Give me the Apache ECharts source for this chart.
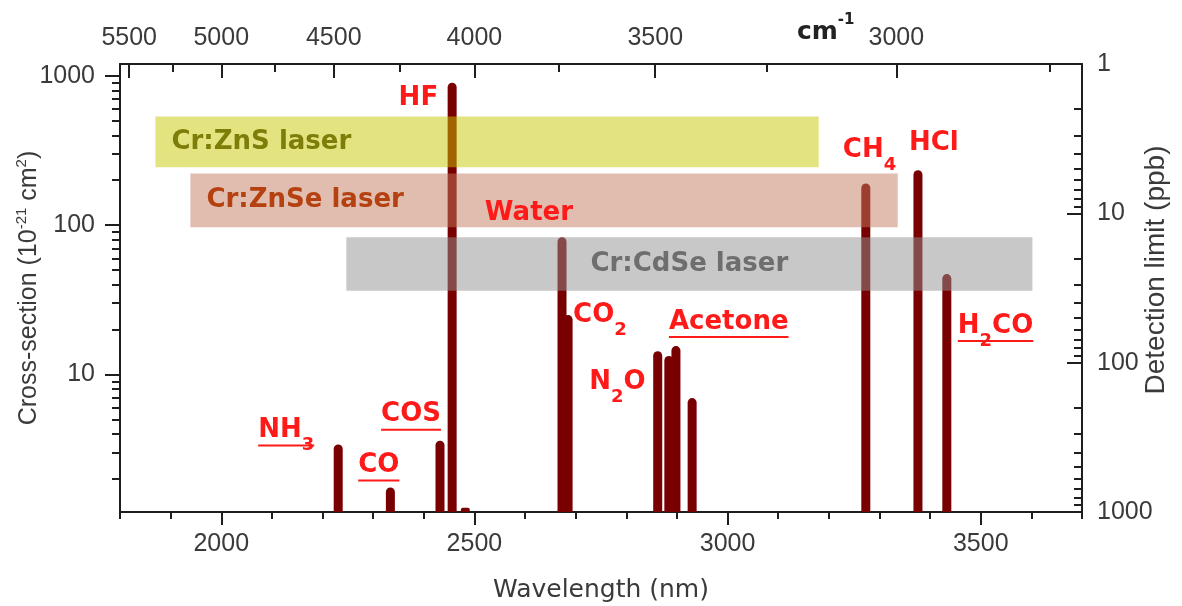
<!DOCTYPE html>
<html>
<head>
<meta charset="utf-8">
<script src="https://cdn.jsdelivr.net/npm/echarts@6/dist/echarts.min.js"></script>
<style>
  html, body { margin: 0; padding: 0; background: #fff; }
  #chart { width: 1182px; height: 606px; }
</style>
</head>
<body>
<div id="chart"></div>
<script>
// Absorption lines: centre wavelength (nm) and peak cross-section (1e-21 cm^2)
const wavelengths   = [2231, 2334, 2432, 2456, 2482, 2673, 2685, 2862, 2884, 2898, 2930, 3273, 3376, 3433];
const crossSections = [3.4, 1.75, 3.6, 900, 1.28, 83, 25, 14.3, 13.3, 15.5, 6.95, 190, 233, 47];

// Molecule names ("_n" marks a subscript digit) and the line each one names
const labelTexts = ['NH_3', 'CO', 'COS', 'HF', 'Water', 'CO_2', 'N_2O', 'Acetone', 'CH_4', 'HCl', 'H_2CO'];
const labelLines = [0, 1, 2, 3, 5, 6, 7, 9, 11, 12, 13];

// Laser tuning ranges: wavelength span (nm) and the cross-section band they cover
const laserNames = ['Cr:ZnS laser', 'Cr:ZnSe laser', 'Cr:CdSe laser'];
const laserStart = [1870, 1939, 2247];
const laserEnd   = [3180, 3336, 3602];
const laserLow   = [244, 97, 36.4];
const laserHigh  = [535, 222, 83];

// Tick values
const wavelengthTicks      = [2000, 2500, 3000, 3500];
const wavenumberTicks      = [5500, 5000, 4500, 4000, 3500, 3000];
const wavenumberMinorTicks = [5250, 4750, 4250, 3750, 3250, 2750];
const crossSectionTicks    = [10, 100, 1000];
const detectionTicks       = [1, 10, 100, 1000];
const logMinorTicks = [2, 3, 4, 5, 6, 7, 8, 9, 20, 30, 40, 50, 60, 70, 80, 90,
                       200, 300, 400, 500, 600, 700, 800, 900];

// ---- styling -------------------------------------------------------------
const AXIS_COLOR = '#1e1e1e';
const TEXT_COLOR = '#3a3a3a';
const BAR_COLOR = '#780000';
const LABEL_RED = '#ff1a1a';
const TICK_FONT = 'Liberation Sans';
const LABEL_FONT = 'DejaVu Sans';
const BAR_WIDTH = 9;

const laserFill = ['rgba(200,200,0,0.5)', 'rgba(194,124,96,0.5)', 'rgba(146,146,146,0.5)'];
const laserTextColor = ['#7d7d0a', '#b4410f', '#6e6e6e'];
const laserTextAlign = ['left', 'left', 'center'];

// where each molecule name sits relative to the top of its line (px)
const labelLayout = [
  { side: 'right', dx: -24, dy: -14, underline: true },  // NH3
  { side: 'right', dx: 9,   dy: -22, underline: true },  // CO
  { side: 'right', dx: 1,   dy: -26, underline: true },  // COS
  { side: 'right', dx: -14, dy: 16 },                    // HF
  { side: 'right', dx: 11,  dy: -24 },                   // Water
  { side: 'left',  dx: 5,   dy: 0 },                     // CO2
  { side: 'right', dx: -12, dy: 31 },                    // N2O
  { side: 'left',  dx: -7,  dy: -24, underline: true },  // Acetone
  { side: 'left',  dx: -23, dy: -33 },                   // CH4
  { side: 'left',  dx: -9,  dy: -27 },                   // HCl
  { side: 'left',  dx: 11,  dy: 52, underline: true }    // H2CO
];

const MAIN_FONT = 'bold 26px "' + LABEL_FONT + '"';
const SUB_FONT = 'bold 18px "' + LABEL_FONT + '"';
const measureCtx = document.createElement('canvas').getContext('2d');
function textWidth(str, font) {
  measureCtx.font = font;
  return measureCtx.measureText(str).width;
}

const chart = echarts.init(document.getElementById('chart'), null, { renderer: 'canvas' });

function renderLine(params, api) {
  const top = api.coord([api.value(0), api.value(1)]);
  const cs = params.coordSys;
  const bottom = cs.y + cs.height;
  const h = Math.max(bottom - top[1], 1);
  const r = Math.min(BAR_WIDTH / 2, h / 2);
  return {
    type: 'rect',
    shape: { x: top[0] - BAR_WIDTH / 2, y: top[1], width: BAR_WIDTH, height: h, r: [r, r, 0, 0] },
    style: { fill: BAR_COLOR }
  };
}

function renderLaser(params, api) {
  const i = params.dataIndex;
  const p0 = api.coord([api.value(0), api.value(3)]);
  const p1 = api.coord([api.value(1), api.value(2)]);
  const w = p1[0] - p0[0];
  const h = p1[1] - p0[1];
  const align = laserTextAlign[i];
  const tx = align === 'center' ? p0[0] + w / 2 : p0[0] + 16;
  return {
    type: 'group',
    children: [
      { type: 'rect', shape: { x: p0[0], y: p0[1], width: w, height: h }, style: { fill: laserFill[i] } },
      {
        type: 'text', z2: 10,
        style: {
          text: laserNames[i], x: tx, y: p0[1] + h / 2,
          font: 'bold 26px "' + LABEL_FONT + '"', fill: laserTextColor[i],
          align: align, verticalAlign: 'middle', textAlign: align, textVerticalAlign: 'middle'
        }
      }
    ]
  };
}

function renderLabel(params, api) {
  const i = params.dataIndex;
  const lay = labelLayout[i];
  const p = api.coord([api.value(0), api.value(1)]);
  const parts = labelTexts[i].split(/_(\d)/);
  const widths = parts.map((t, k) => textWidth(t, k % 2 ? SUB_FONT : MAIN_FONT));
  const total = widths.reduce((a, b) => a + b, 0);
  const x0 = lay.side === 'left' ? p[0] + lay.dx : p[0] + lay.dx - total;
  const cy = p[1] + lay.dy;
  const children = [];
  let x = x0;
  parts.forEach((t, k) => {
    if (t) {
      const sub = k % 2 === 1;
      children.push({
        type: 'text',
        style: {
          text: t, x: x, y: sub ? cy + 15 : cy,
          font: sub ? SUB_FONT : MAIN_FONT, fill: LABEL_RED,
          align: 'left', verticalAlign: 'middle', textAlign: 'left', textVerticalAlign: 'middle'
        }
      });
    }
    x += widths[k];
  });
  if (lay.underline) {
    children.push({
      type: 'line',
      shape: { x1: x0, y1: cy + 15, x2: x0 + total, y2: cy + 15 },
      style: { stroke: LABEL_RED, lineWidth: 2 }
    });
  }
  return { type: 'group', children: children };
}

const tickLabelStyle = { fontFamily: TICK_FONT, fontSize: 25, color: TEXT_COLOR };
const axisLineStyle = { color: AXIS_COLOR, width: 2 };
const tickLineStyle = { color: AXIS_COLOR, width: 2 };
const toWavelength = k => 1e7 / k;
const plain = v => String(v);

const option = {
  backgroundColor: '#ffffff',
  animation: false,
  grid: { left: 120, right: 100, top: 64, bottom: 94, outerBoundsMode: 'none', containLabel: false },
  graphic: [{
    type: 'text', left: 797, top: 13,
    style: {
      text: '{b|cm}{s|-1}',
      rich: {
        b: { fontSize: 25, fontWeight: 'bold', fontFamily: LABEL_FONT, fill: '#222', lineHeight: 32, verticalAlign: 'bottom' },
        s: { fontSize: 15, fontWeight: 'bold', fontFamily: LABEL_FONT, fill: '#222', lineHeight: 16, verticalAlign: 'top' }
      }
    }
  }],
  xAxis: [
    {
      type: 'value', position: 'bottom', min: 1800, max: 3700,
      axisLine: { show: true, onZero: false, lineStyle: axisLineStyle },
      axisTick: { show: true, customValues: wavelengthTicks, length: 13, lineStyle: tickLineStyle },
      axisLabel: Object.assign({ customValues: wavelengthTicks, margin: 20, formatter: plain }, tickLabelStyle),
      splitLine: { show: false },
      name: 'Wavelength (nm)', nameLocation: 'middle', nameGap: 66, nameMoveOverlap: false,
      nameTextStyle: { fontFamily: LABEL_FONT, fontSize: 25, color: TEXT_COLOR }
    },
    {
      type: 'value', position: 'bottom', min: 1800, max: 3700, interval: 100,
      axisLine: { show: false },
      axisTick: { show: true, length: 7, lineStyle: tickLineStyle },
      axisLabel: { show: false },
      splitLine: { show: false }
    },
    {
      type: 'value', position: 'top', min: 1800, max: 3700,
      axisLine: { show: true, onZero: false, lineStyle: axisLineStyle },
      axisTick: { show: true, inside: true, customValues: wavenumberTicks.map(toWavelength), length: 14, lineStyle: tickLineStyle },
      axisLabel: Object.assign({
        customValues: wavenumberTicks.map(toWavelength), margin: 13,
        formatter: v => String(Math.round(1e7 / v))
      }, tickLabelStyle),
      splitLine: { show: false }
    },
    {
      type: 'value', position: 'top', min: 1800, max: 3700,
      axisLine: { show: false },
      axisTick: { show: true, inside: true, customValues: wavenumberMinorTicks.map(toWavelength), length: 8, lineStyle: tickLineStyle },
      axisLabel: { show: false },
      splitLine: { show: false }
    }
  ],
  yAxis: [
    {
      type: 'log', logBase: 10, position: 'left', min: 1.2, max: 1200,
      axisLine: { show: true, onZero: false, lineStyle: axisLineStyle },
      axisTick: { show: true, customValues: crossSectionTicks, length: 15, lineStyle: tickLineStyle },
      axisLabel: Object.assign({ customValues: crossSectionTicks, margin: 25, formatter: plain }, tickLabelStyle),
      splitLine: { show: false },
      name: 'Cross-section (10{sup|-21} cm{sup|2})', nameLocation: 'middle', nameGap: 76, nameRotate: 90,
      nameMoveOverlap: false,
      nameTextStyle: {
        fontFamily: TICK_FONT, fontSize: 25, color: TEXT_COLOR, lineHeight: 30,
        rich: { sup: { fontFamily: TICK_FONT, fontSize: 15, color: TEXT_COLOR, lineHeight: 14, verticalAlign: 'top' } }
      }
    },
    {
      type: 'log', logBase: 10, position: 'left', min: 1.2, max: 1200,
      axisLine: { show: false },
      axisTick: { show: true, customValues: logMinorTicks, length: 8, lineStyle: tickLineStyle },
      axisLabel: { show: false },
      splitLine: { show: false }
    },
    {
      type: 'log', logBase: 10, position: 'right', min: 1, max: 1000, inverse: true,
      axisLine: { show: true, onZero: false, lineStyle: axisLineStyle },
      axisTick: { show: true, inside: true, customValues: detectionTicks, length: 15, lineStyle: tickLineStyle },
      axisLabel: Object.assign({ customValues: detectionTicks, margin: 15, formatter: plain }, tickLabelStyle),
      splitLine: { show: false },
      name: 'Detection limit (ppb)', nameLocation: 'middle', nameGap: 60, nameRotate: 90,
      nameMoveOverlap: false,
      nameTextStyle: { fontFamily: TICK_FONT, fontSize: 28, color: TEXT_COLOR, padding: [0, 0, 0, 36] }
    },
    {
      type: 'log', logBase: 10, position: 'right', min: 1, max: 1000, inverse: true,
      axisLine: { show: false },
      axisTick: { show: true, inside: true, customValues: logMinorTicks, length: 8, lineStyle: tickLineStyle },
      axisLabel: { show: false },
      splitLine: { show: false }
    }
  ],
  series: [
    {
      type: 'custom', name: 'Absorption lines', xAxisIndex: 0, yAxisIndex: 0, z: 2,
      renderItem: renderLine,
      encode: { x: 0, y: 1 },
      data: wavelengths.map((w, i) => [w, crossSections[i]])
    },
    {
      type: 'custom', name: 'Lasers', xAxisIndex: 0, yAxisIndex: 0, z: 3,
      renderItem: renderLaser,
      encode: { x: [0, 1], y: [2, 3] },
      data: laserNames.map((n, i) => [laserStart[i], laserEnd[i], laserLow[i], laserHigh[i]])
    },
    {
      type: 'custom', name: 'Molecules', xAxisIndex: 0, yAxisIndex: 0, z: 4,
      renderItem: renderLabel,
      encode: { x: 0, y: 1 },
      data: labelLines.map(b => [wavelengths[b], crossSections[b]])
    }
  ]
};

chart.setOption(option);
</script>
</body>
</html>
